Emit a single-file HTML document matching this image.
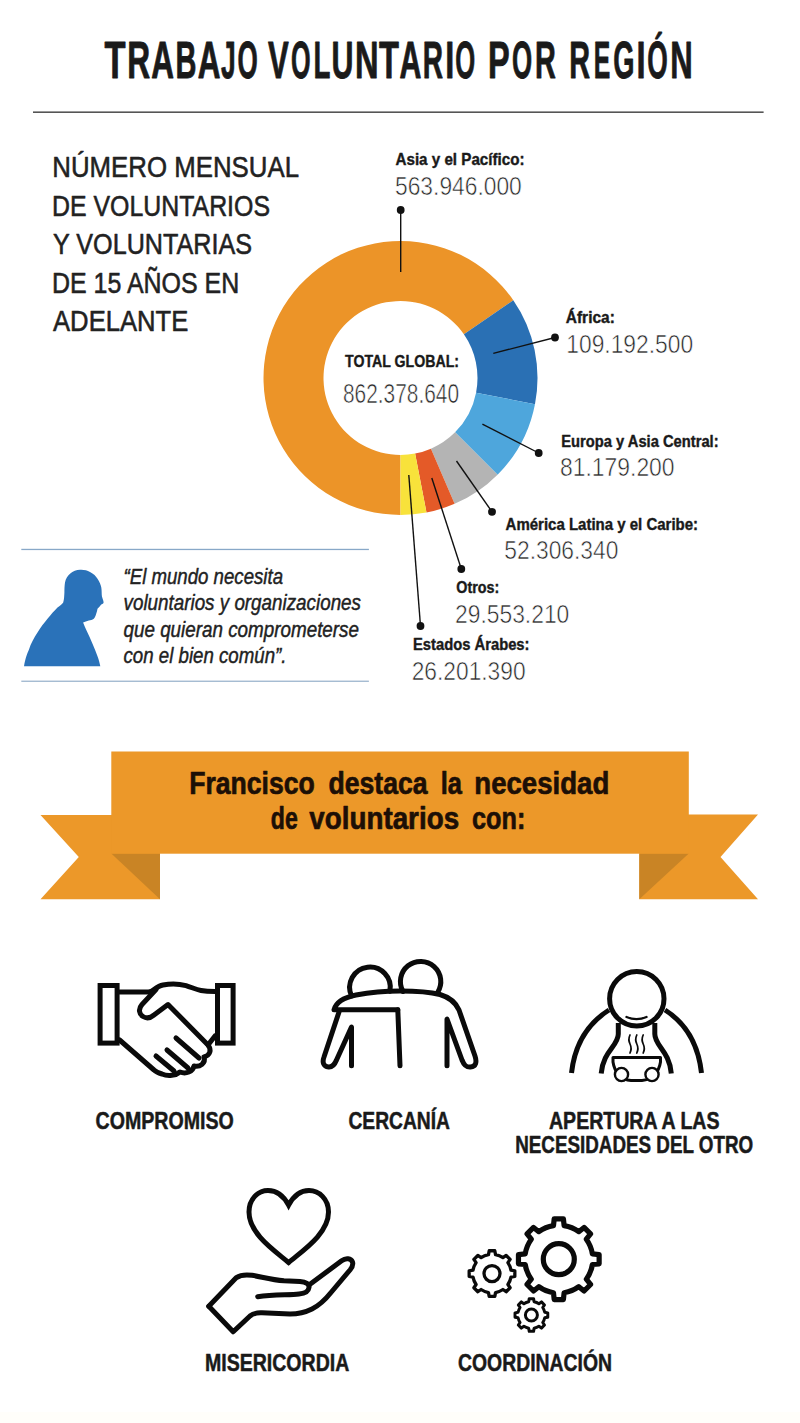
<!DOCTYPE html>
<html lang="es"><head><meta charset="utf-8"><title>Trabajo voluntario por región</title>
<style>
html,body{margin:0;padding:0;background:#fff;}
body{width:800px;height:1423px;overflow:hidden;}
svg{display:block;font-family:"Liberation Sans",sans-serif;}
</style></head><body>
<svg width="800" height="1423" viewBox="0 0 800 1423">
<rect width="800" height="1423" fill="#ffffff"/>
<text y="78.2" font-size="52.6" font-weight="bold" fill="#1a1a1a" stroke="#1a1a1a" stroke-width="0.9" stroke-linejoin="round"><tspan x="104.46" textLength="21.06" lengthAdjust="spacingAndGlyphs">T</tspan><tspan x="127.33" textLength="22.87" lengthAdjust="spacingAndGlyphs">R</tspan><tspan x="151.27" textLength="22.71" lengthAdjust="spacingAndGlyphs">A</tspan><tspan x="175.51" textLength="20.96" lengthAdjust="spacingAndGlyphs">B</tspan><tspan x="197.67" textLength="22.71" lengthAdjust="spacingAndGlyphs">A</tspan><tspan x="221.05" textLength="14.71" lengthAdjust="spacingAndGlyphs">J</tspan><tspan x="237.38" textLength="20.26" lengthAdjust="spacingAndGlyphs">O</tspan><tspan> </tspan><tspan x="267.94" textLength="20.72" lengthAdjust="spacingAndGlyphs">V</tspan><tspan x="291.02" textLength="19.59" lengthAdjust="spacingAndGlyphs">O</tspan><tspan x="313.60" textLength="16.90" lengthAdjust="spacingAndGlyphs">L</tspan><tspan x="331.52" textLength="21.99" lengthAdjust="spacingAndGlyphs">U</tspan><tspan x="355.07" textLength="23.59" lengthAdjust="spacingAndGlyphs">N</tspan><tspan x="378.88" textLength="19.92" lengthAdjust="spacingAndGlyphs">T</tspan><tspan x="399.40" textLength="21.85" lengthAdjust="spacingAndGlyphs">A</tspan><tspan x="422.77" textLength="20.25" lengthAdjust="spacingAndGlyphs">R</tspan><tspan x="445.27" textLength="9.07" lengthAdjust="spacingAndGlyphs">I</tspan><tspan x="455.20" textLength="19.93" lengthAdjust="spacingAndGlyphs">O</tspan><tspan> </tspan><tspan x="487.88" textLength="21.69" lengthAdjust="spacingAndGlyphs">P</tspan><tspan x="511.89" textLength="20.15" lengthAdjust="spacingAndGlyphs">O</tspan><tspan x="534.92" textLength="20.82" lengthAdjust="spacingAndGlyphs">R</tspan><tspan> </tspan><tspan x="569.32" textLength="20.82" lengthAdjust="spacingAndGlyphs">R</tspan><tspan x="593.79" textLength="16.53" lengthAdjust="spacingAndGlyphs">E</tspan><tspan x="613.23" textLength="21.21" lengthAdjust="spacingAndGlyphs">G</tspan><tspan x="636.47" textLength="9.07" lengthAdjust="spacingAndGlyphs">I</tspan><tspan x="647.17" textLength="20.49" lengthAdjust="spacingAndGlyphs">Ó</tspan><tspan x="670.37" textLength="22.48" lengthAdjust="spacingAndGlyphs">N</tspan></text>
<rect x="33" y="111.4" width="730.6" height="1.6" fill="#555"/>
<text x="52.3" y="176.9" font-size="28.6" font-weight="normal" font-style="normal" fill="#222" text-anchor="start" textLength="246.7" lengthAdjust="spacingAndGlyphs" stroke="#222" stroke-width="0.55" stroke-linejoin="round">NÚMERO MENSUAL</text>
<text x="52" y="215.5" font-size="28.6" font-weight="normal" font-style="normal" fill="#222" text-anchor="start" textLength="218" lengthAdjust="spacingAndGlyphs" stroke="#222" stroke-width="0.55" stroke-linejoin="round">DE VOLUNTARIOS</text>
<text x="53" y="254.2" font-size="28.6" font-weight="normal" font-style="normal" fill="#222" text-anchor="start" textLength="199" lengthAdjust="spacingAndGlyphs" stroke="#222" stroke-width="0.55" stroke-linejoin="round">Y VOLUNTARIAS</text>
<text x="52" y="292.6" font-size="28.6" font-weight="normal" font-style="normal" fill="#222" text-anchor="start" textLength="187.3" lengthAdjust="spacingAndGlyphs" stroke="#222" stroke-width="0.55" stroke-linejoin="round">DE 15 AÑOS EN</text>
<text x="53" y="331" font-size="28.6" font-weight="normal" font-style="normal" fill="#222" text-anchor="start" textLength="135.4" lengthAdjust="spacingAndGlyphs" stroke="#222" stroke-width="0.55" stroke-linejoin="round">ADELANTE</text>
<path d="M400.50 515.00 A137 137 0 1 1 513.30 300.24 L463.90 334.30 A77 77 0 1 0 400.50 455.00 Z" fill="#EC9428"/>
<path d="M513.30 300.24 A137 137 0 0 1 534.98 404.14 L476.08 392.69 A77 77 0 0 0 463.90 334.30 Z" fill="#2A70B4"/>
<path d="M534.98 404.14 A137 137 0 0 1 497.56 474.69 L455.05 432.34 A77 77 0 0 0 476.08 392.69 Z" fill="#4EA6DC"/>
<path d="M497.56 474.69 A137 137 0 0 1 454.63 503.85 L430.93 448.73 A77 77 0 0 0 455.05 432.34 Z" fill="#B4B4B4"/>
<path d="M454.63 503.85 A137 137 0 0 1 426.49 512.51 L415.11 453.60 A77 77 0 0 0 430.93 448.73 Z" fill="#E45A28"/>
<path d="M426.49 512.51 A137 137 0 0 1 400.50 515.00 L400.50 455.00 A77 77 0 0 0 415.11 453.60 Z" fill="#F8E23B"/>
<text x="345" y="367.4" font-size="17" font-weight="bold" font-style="normal" fill="#1a1a1a" text-anchor="start" textLength="114" lengthAdjust="spacingAndGlyphs" stroke="#1a1a1a" stroke-width="0.4" stroke-linejoin="round">TOTAL GLOBAL:</text>
<text x="343" y="402.5" font-size="27.6" font-weight="normal" font-style="normal" fill="#262626" text-anchor="start" textLength="116" lengthAdjust="spacingAndGlyphs" stroke="#fff" stroke-width="0.6">862.378.640</text>
<line x1="400.7" y1="210" x2="400.7" y2="272" stroke="#111" stroke-width="1.4"/>
<circle cx="400.7" cy="210" r="3.9" fill="#111"/>
<line x1="555" y1="337.5" x2="493.3" y2="353.4" stroke="#111" stroke-width="1.4"/>
<circle cx="555" cy="337.5" r="3.9" fill="#111"/>
<line x1="538.7" y1="453" x2="482.4" y2="424.2" stroke="#111" stroke-width="1.4"/>
<circle cx="538.7" cy="453" r="3.9" fill="#111"/>
<line x1="492" y1="511.8" x2="456.5" y2="461" stroke="#111" stroke-width="1.4"/>
<circle cx="492" cy="511.8" r="3.9" fill="#111"/>
<line x1="461.3" y1="569" x2="431.8" y2="478" stroke="#111" stroke-width="1.4"/>
<circle cx="461.3" cy="569" r="3.9" fill="#111"/>
<line x1="420.5" y1="626" x2="408.8" y2="475" stroke="#111" stroke-width="1.4"/>
<circle cx="420.5" cy="626" r="3.9" fill="#111"/>
<text x="395.5" y="165" font-size="16.4" font-weight="bold" font-style="normal" fill="#1a1a1a" text-anchor="start" textLength="129" lengthAdjust="spacingAndGlyphs" stroke="#1a1a1a" stroke-width="0.4" stroke-linejoin="round">Asia y el Pacífico:</text>
<text x="395.0" y="194.60000000000002" font-size="26.6" font-weight="normal" font-style="normal" fill="#262626" text-anchor="start" textLength="126.8" lengthAdjust="spacingAndGlyphs" stroke="#fff" stroke-width="0.6">563.946.000</text>
<text x="565.8" y="323.3" font-size="16.4" font-weight="bold" font-style="normal" fill="#1a1a1a" text-anchor="start" textLength="49" lengthAdjust="spacingAndGlyphs" stroke="#1a1a1a" stroke-width="0.4" stroke-linejoin="round">África:</text>
<text x="566.3000000000001" y="352.8" font-size="26.6" font-weight="normal" font-style="normal" fill="#262626" text-anchor="start" textLength="126.8" lengthAdjust="spacingAndGlyphs" stroke="#fff" stroke-width="0.6">109.192.500</text>
<text x="561.3" y="446.6" font-size="16.4" font-weight="bold" font-style="normal" fill="#1a1a1a" text-anchor="start" textLength="157.3" lengthAdjust="spacingAndGlyphs" stroke="#1a1a1a" stroke-width="0.4" stroke-linejoin="round">Europa y Asia Central:</text>
<text x="560.0" y="475.8" font-size="26.6" font-weight="normal" font-style="normal" fill="#262626" text-anchor="start" textLength="114.6" lengthAdjust="spacingAndGlyphs" stroke="#fff" stroke-width="0.6">81.179.200</text>
<text x="505.6" y="530" font-size="16.4" font-weight="bold" font-style="normal" fill="#1a1a1a" text-anchor="start" textLength="192.5" lengthAdjust="spacingAndGlyphs" stroke="#1a1a1a" stroke-width="0.4" stroke-linejoin="round">América Latina y el Caribe:</text>
<text x="504.3" y="559.3" font-size="26.6" font-weight="normal" font-style="normal" fill="#262626" text-anchor="start" textLength="114.1" lengthAdjust="spacingAndGlyphs" stroke="#fff" stroke-width="0.6">52.306.340</text>
<text x="456.3" y="593.3" font-size="16.4" font-weight="bold" font-style="normal" fill="#1a1a1a" text-anchor="start" textLength="43" lengthAdjust="spacingAndGlyphs" stroke="#1a1a1a" stroke-width="0.4" stroke-linejoin="round">Otros:</text>
<text x="455.0" y="622.8" font-size="26.6" font-weight="normal" font-style="normal" fill="#262626" text-anchor="start" textLength="114.3" lengthAdjust="spacingAndGlyphs" stroke="#fff" stroke-width="0.6">29.553.210</text>
<text x="413" y="650" font-size="16.4" font-weight="bold" font-style="normal" fill="#1a1a1a" text-anchor="start" textLength="116.5" lengthAdjust="spacingAndGlyphs" stroke="#1a1a1a" stroke-width="0.4" stroke-linejoin="round">Estados Árabes:</text>
<text x="411.7" y="679.5999999999999" font-size="26.6" font-weight="normal" font-style="normal" fill="#262626" text-anchor="start" textLength="113.89999999999999" lengthAdjust="spacingAndGlyphs" stroke="#fff" stroke-width="0.6">26.201.390</text>
<rect x="21.3" y="548.8" width="347.6" height="1.3" fill="#88A8C8"/>
<rect x="21.3" y="680.6" width="347.6" height="1.3" fill="#9DB5CE"/>
<path d="M24 666.2 C25.5 658 27 654 28.8 650 C31 643 34 638 37.5 632.5 C41 627 44 623 47.5 618.8 C51 614.5 54 611 57.5 607.5 C60 605.5 62 604.5 63.2 602.5 C64.2 599 64.2 596 64.4 592.5 C64.4 589 64.5 586 65 582.5 C65.8 578.5 67.5 576 70 573.8 C73 571 76.5 570 80 569.8 C84 569.6 87 570.3 90 571.9 C93.5 573.7 96 576 97.5 578.8 C99.5 582 100.8 585 101.3 587.5 C101.8 590.5 101.6 593.5 101.9 596.3 C102.3 598.5 103.6 600.5 103.6 602.4 C103.5 603.6 102.2 604 101.2 604.4 C100.2 605.8 98.8 607.3 97.5 608.8 C97.3 610.5 96.8 612 96.2 613.8 C95.6 615.8 95 617.6 93.8 618.8 C92.3 620 90.5 620.3 88.8 620.6 C86.8 621.2 84.8 621.8 83.1 622.5 C84 625 85.2 627.6 86.3 630 C88.5 634.5 90.5 639 92.5 643.8 C94.3 648 96 652 97.5 656.3 C98.8 659.8 99.6 663 100.3 666.2 Z" fill="#2A72B9"/>
<text x="123.5" y="583.5" font-size="22.3" font-weight="normal" font-style="italic" fill="#222" text-anchor="start" textLength="159.5" lengthAdjust="spacingAndGlyphs" stroke="#222" stroke-width="0.45" stroke-linejoin="round">“El mundo necesita</text>
<text x="123.5" y="610" font-size="22.3" font-weight="normal" font-style="italic" fill="#222" text-anchor="start" textLength="237.5" lengthAdjust="spacingAndGlyphs" stroke="#222" stroke-width="0.45" stroke-linejoin="round">voluntarios y organizaciones</text>
<text x="123.5" y="636.6" font-size="22.3" font-weight="normal" font-style="italic" fill="#222" text-anchor="start" textLength="235.5" lengthAdjust="spacingAndGlyphs" stroke="#222" stroke-width="0.45" stroke-linejoin="round">que quieran comprometerse</text>
<text x="123.5" y="663.4" font-size="22.3" font-weight="normal" font-style="italic" fill="#222" text-anchor="start" textLength="163" lengthAdjust="spacingAndGlyphs" stroke="#222" stroke-width="0.45" stroke-linejoin="round">con el bien común”.</text>
<path d="M40.5 815 L160 815 L160 899.3 L40.5 899.3 L78.8 857 Z" fill="#EC9829"/>
<path d="M758 814.5 L639.3 814.5 L639.3 899.3 L758 899.3 L720.5 857 Z" fill="#EC9829"/>
<path d="M111.3 853.5 L160 853.5 L160 899.3 Z" fill="#C98425"/>
<path d="M639.3 853.5 L688.8 853.5 L639.3 899.3 Z" fill="#C98425"/>
<rect x="111.3" y="751.5" width="577.5" height="102.2" fill="#EC9829"/>
<text x="189.2" y="793.8" font-size="31.5" font-weight="bold" font-style="normal" fill="#1c0f06" stroke="#1c0f06" stroke-width="0.7" stroke-linejoin="round" textLength="125.6" lengthAdjust="spacingAndGlyphs">Francisco</text> <text x="328.5" y="793.8" font-size="31.5" font-weight="bold" font-style="normal" fill="#1c0f06" stroke="#1c0f06" stroke-width="0.7" stroke-linejoin="round" textLength="99.0" lengthAdjust="spacingAndGlyphs">destaca</text> <text x="440.7" y="793.8" font-size="31.5" font-weight="bold" font-style="normal" fill="#1c0f06" stroke="#1c0f06" stroke-width="0.7" stroke-linejoin="round" textLength="21.2" lengthAdjust="spacingAndGlyphs">la</text> <text x="474.3" y="793.8" font-size="31.5" font-weight="bold" font-style="normal" fill="#1c0f06" stroke="#1c0f06" stroke-width="0.7" stroke-linejoin="round" textLength="135.0" lengthAdjust="spacingAndGlyphs">necesidad</text>
<text x="270.8" y="829" font-size="31.5" font-weight="bold" font-style="normal" fill="#1c0f06" stroke="#1c0f06" stroke-width="0.7" stroke-linejoin="round" textLength="26.9" lengthAdjust="spacingAndGlyphs">de</text> <text x="309.3" y="829" font-size="31.5" font-weight="bold" font-style="normal" fill="#1c0f06" stroke="#1c0f06" stroke-width="0.7" stroke-linejoin="round" textLength="149.8" lengthAdjust="spacingAndGlyphs">voluntarios</text> <text x="472" y="829" font-size="31.5" font-weight="bold" font-style="normal" fill="#1c0f06" stroke="#1c0f06" stroke-width="0.7" stroke-linejoin="round" textLength="53.3" lengthAdjust="spacingAndGlyphs">con:</text>
<text x="95.5" y="1128.8" font-size="24.2" font-weight="bold" font-style="normal" fill="#1a1a1a" text-anchor="start" textLength="138.3" lengthAdjust="spacingAndGlyphs" stroke="#1a1a1a" stroke-width="0.5" stroke-linejoin="round">COMPROMISO</text>
<text x="348.4" y="1128.6" font-size="24.2" font-weight="bold" font-style="normal" fill="#1a1a1a" text-anchor="start" textLength="101.6" lengthAdjust="spacingAndGlyphs" stroke="#1a1a1a" stroke-width="0.5" stroke-linejoin="round">CERCANÍA</text>
<text x="549" y="1128.8" font-size="23.4" font-weight="bold" font-style="normal" fill="#1a1a1a" text-anchor="start" textLength="170.5" lengthAdjust="spacingAndGlyphs" stroke="#1a1a1a" stroke-width="0.5" stroke-linejoin="round">APERTURA A LAS</text>
<text x="515.2" y="1153.4" font-size="23.4" font-weight="bold" font-style="normal" fill="#1a1a1a" text-anchor="start" textLength="238" lengthAdjust="spacingAndGlyphs" stroke="#1a1a1a" stroke-width="0.5" stroke-linejoin="round">NECESIDADES DEL OTRO</text>
<text x="205" y="1371.3" font-size="24.2" font-weight="bold" font-style="normal" fill="#1a1a1a" text-anchor="start" textLength="144.3" lengthAdjust="spacingAndGlyphs" stroke="#1a1a1a" stroke-width="0.5" stroke-linejoin="round">MISERICORDIA</text>
<text x="458" y="1371.3" font-size="24.2" font-weight="bold" font-style="normal" fill="#1a1a1a" text-anchor="start" textLength="154" lengthAdjust="spacingAndGlyphs" stroke="#1a1a1a" stroke-width="0.5" stroke-linejoin="round">COORDINACIÓN</text>
<g fill="none" stroke="#0a0a0a" stroke-linecap="round" stroke-linejoin="round" stroke-width="5">
<rect x="100.1" y="985.5" width="17" height="57.6" stroke-linejoin="miter"/>
<rect x="217.5" y="985.5" width="15.6" height="57.6" stroke-linejoin="miter"/>
<path d="M119.6 992 L150 992"/>
<path d="M150 992 C155 989 158 986 163 985 C170 983.6 180 984 186 985.6 C192 987.5 196 989.5 201 990.5 C206 991.5 210 991.6 215 991.6"/>
<path d="M156 989.5 L142 1004.5 C138 1009 139 1014 143 1016.5 C147 1019 151 1017.5 154 1015 L168 1004.5 L208 1045 L215 1036"/>
<path d="M208 1045 C212 1050 210 1055.5 204 1057 C206 1063 200 1067.5 194 1066 C193 1071.5 186 1074.5 180 1072 C176 1075.5 168 1076.5 162 1074 C158 1072.8 156 1072 154 1070 L119.6 1040"/>
<path d="M176 1038 L199 1058"/><path d="M167 1050 L188 1068"/><path d="M156 1056 L174 1071"/>
</g>
<g fill="none" stroke="#0a0a0a" stroke-linecap="round" stroke-linejoin="round" stroke-width="5">
<path d="M351.6 996 A20.3 20.3 0 1 1 389.9 991.3"/>
<path d="M403 991.5 A20.2 20.2 0 1 1 437.6 992.5"/>
<path d="M397.8 1009.8 L334 1009.8 C336 1002 344 997.5 356 995 C372 992 388 991 400 991 C414 991 428 991.5 440 994.5 C450 997.5 456 1003 459 1010 L475 1056 C477 1062 476 1066.5 470.5 1067 C466 1067.4 464 1065 462 1060 L447 1019 L447 1065.8"/>
<path d="M397.8 1009.8 L400 1065.8"/>
<path d="M339 1012 L324 1057 C322 1062.5 323.5 1066.5 328.5 1067 C332.5 1067.4 334.5 1065 336.5 1060 L351.5 1027 L351.5 1065.8"/>
</g>
<g fill="none" stroke="#0a0a0a" stroke-linecap="round" stroke-linejoin="round" stroke-width="5">
<circle cx="636.8" cy="998.8" r="27.2"/>
<g stroke-linecap="butt">
<path d="M609 1010 C590 1022 575 1042 571.5 1073"/>
<path d="M665 1010 C684 1022 698 1042 701.5 1073"/>
<path d="M618.3 1023 L618.3 1034 C618.3 1046 603 1051 601.2 1073.5"/>
<path d="M654.8 1023 L654.8 1034 C654.8 1046 669.5 1051 671.3 1073.5"/>
</g>
</g>
<g fill="none" stroke="#0a0a0a" stroke-linecap="round" stroke-linejoin="round" stroke-width="1.7">
<path d="M626.5 1017 Q636.5 1021.4 646.5 1017" stroke-width="2.3"/>
<path d="M630 1035 q-2.2 4.5 0 9 q2.2 4.5 0 9"/>
<path d="M636.8 1035 q-2.2 4.5 0 9 q2.2 4.5 0 9"/>
<path d="M643.2 1035 q-2.2 4.5 0 9 q2.2 4.5 0 9"/>
</g>
<g fill="none" stroke="#0a0a0a" stroke-linecap="round" stroke-linejoin="round" stroke-width="3">
<path d="M613 1057.5 L660.5 1057.5 L660.5 1062 C659 1072 652 1080 642 1080.5 L631 1080.5 C621 1080 614.5 1072 613 1062 Z"/>
<circle cx="621.5" cy="1074.5" r="6.6" fill="#fff" stroke-width="2.4"/>
<circle cx="652" cy="1074.5" r="6.6" fill="#fff" stroke-width="2.4"/>
</g>
<g fill="none" stroke="#0a0a0a" stroke-linecap="round" stroke-linejoin="round" stroke-width="5">
<path d="M288.6 1262.5 C275 1251 249 1234 249 1212 C249 1199 258 1190.5 268 1190.5 C277.5 1190.5 284 1196.5 288.6 1205.2 C293.2 1196.5 299.7 1190.5 309 1190.5 C319 1190.5 328.5 1199 328.5 1212 C328.5 1234 302 1251 288.6 1262.5 Z" stroke-linejoin="miter"/>
<path d="M208.8 1306.3 L236.4 1277.6 C241 1274.5 246 1274.5 252 1275.3 C262 1277 272 1280 284 1280.8 L300 1281.5 C306 1282 309.5 1284 309 1287.5 C308.5 1291.5 305 1293.5 299 1294 C289 1295.3 274 1294 257.7 1296.7"/>
<path d="M309 1285 L341.6 1260.8 C346 1257.5 351 1258.5 352.5 1262 C353.5 1265 352 1267.5 350 1270 L331 1292.5 C325 1300 319 1305.5 312 1309 C305 1312.5 299 1314 290 1314 L262 1312.8 C256 1312.5 253 1313.5 250 1316 L233.2 1331.8 L208.8 1306.3"/>
</g>
<path d="M553.48 1225.62 L554.20 1218.86 L563.40 1218.86 L564.12 1225.62 A34 34 0 0 1 578.78 1231.69 L584.07 1227.43 L590.57 1233.93 L586.31 1239.22 A34 34 0 0 1 592.38 1253.88 L599.14 1254.60 L599.14 1263.80 L592.38 1264.52 A34 34 0 0 1 586.31 1279.18 L590.57 1284.47 L584.07 1290.97 L578.78 1286.71 A34 34 0 0 1 564.12 1292.78 L563.40 1299.54 L554.20 1299.54 L553.48 1292.78 A34 34 0 0 1 538.82 1286.71 L533.53 1290.97 L527.03 1284.47 L531.29 1279.18 A34 34 0 0 1 525.22 1264.52 L518.46 1263.80 L518.46 1254.60 L525.22 1253.88 A34 34 0 0 1 531.29 1239.22 L527.03 1233.93 L533.53 1227.43 L538.82 1231.69 A34 34 0 0 1 553.48 1225.62 Z" fill="none" stroke="#0a0a0a" stroke-linecap="round" stroke-linejoin="round" stroke-width="5.2"/><circle cx="558.8" cy="1259.2" r="15.5" fill="none" stroke="#0a0a0a" stroke-linecap="round" stroke-linejoin="round" stroke-width="5.2"/>
<path d="M488.48 1254.62 L489.20 1250.77 L494.80 1250.77 L495.52 1254.62 A19.3 19.3 0 0 1 502.93 1257.69 L506.16 1255.48 L510.12 1259.44 L507.91 1262.67 A19.3 19.3 0 0 1 510.98 1270.08 L514.83 1270.80 L514.83 1276.40 L510.98 1277.12 A19.3 19.3 0 0 1 507.91 1284.53 L510.12 1287.76 L506.16 1291.72 L502.93 1289.51 A19.3 19.3 0 0 1 495.52 1292.58 L494.80 1296.43 L489.20 1296.43 L488.48 1292.58 A19.3 19.3 0 0 1 481.07 1289.51 L477.84 1291.72 L473.88 1287.76 L476.09 1284.53 A19.3 19.3 0 0 1 473.02 1277.12 L469.17 1276.40 L469.17 1270.80 L473.02 1270.08 A19.3 19.3 0 0 1 476.09 1262.67 L473.88 1259.44 L477.84 1255.48 L481.07 1257.69 A19.3 19.3 0 0 1 488.48 1254.62 Z" fill="none" stroke="#0a0a0a" stroke-linecap="round" stroke-linejoin="round" stroke-width="3.3"/><circle cx="492" cy="1273.6" r="8" fill="none" stroke="#0a0a0a" stroke-linecap="round" stroke-linejoin="round" stroke-width="3.3"/>
<path d="M528.69 1301.67 L529.25 1298.64 L533.55 1298.64 L534.11 1301.67 A13.6 13.6 0 0 1 538.91 1303.66 L541.44 1301.91 L544.49 1304.96 L542.74 1307.49 A13.6 13.6 0 0 1 544.73 1312.29 L547.76 1312.85 L547.76 1317.15 L544.73 1317.71 A13.6 13.6 0 0 1 542.74 1322.51 L544.49 1325.04 L541.44 1328.09 L538.91 1326.34 A13.6 13.6 0 0 1 534.11 1328.33 L533.55 1331.36 L529.25 1331.36 L528.69 1328.33 A13.6 13.6 0 0 1 523.89 1326.34 L521.36 1328.09 L518.31 1325.04 L520.06 1322.51 A13.6 13.6 0 0 1 518.07 1317.71 L515.04 1317.15 L515.04 1312.85 L518.07 1312.29 A13.6 13.6 0 0 1 520.06 1307.49 L518.31 1304.96 L521.36 1301.91 L523.89 1303.66 A13.6 13.6 0 0 1 528.69 1301.67 Z" fill="none" stroke="#0a0a0a" stroke-linecap="round" stroke-linejoin="round" stroke-width="3"/><circle cx="531.4" cy="1315" r="6" fill="none" stroke="#0a0a0a" stroke-linecap="round" stroke-linejoin="round" stroke-width="3"/>
<rect y="1412" width="800" height="11" fill="#FFFEFA"/>
</svg></body></html>
